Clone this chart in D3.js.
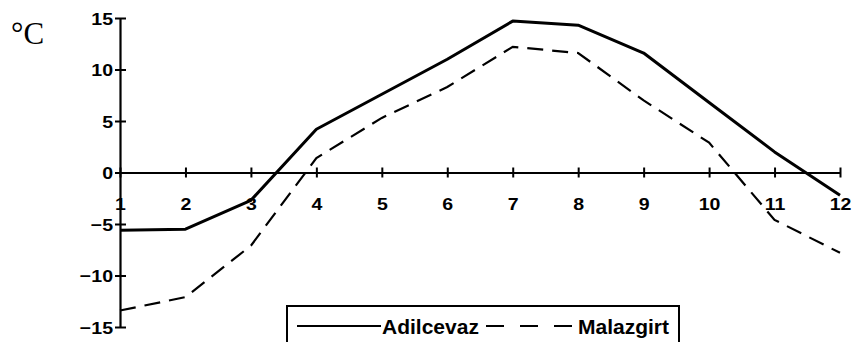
<!DOCTYPE html>
<html>
<head>
<meta charset="utf-8">
<script src="https://cdn.jsdelivr.net/npm/d3@7"></script>
<style>
  html, body { margin: 0; padding: 0; background: #fff; }
  svg { display: block; }
</style>
</head>
<body>
<svg id="chart" width="859" height="342"></svg>
<script>
// ---- data ----
const months = [1, 2, 3, 4, 5, 6, 7, 8, 9, 10, 11, 12];
const adilcevaz = [-5.6, -5.5, -2.7, 4.2, 7.6, 11.0, 14.7, 14.3, 11.6, 6.8, 2.0, -2.2];
const malazgirt = [-13.4, -12.1, -7.1, 1.4, 5.3, 8.3, 12.2, 11.6, 7.0, 2.9, -4.6, -7.8];
const yTicks = [-15, -10, -5, 0, 5, 10, 15];
const seriesNames = ["Adilcevaz", "Malazgirt"];
const unitLabel = "°C";

// ---- layout ----
const svg = d3.select("#chart");
const x = d3.scaleLinear().domain([1, 12]).range([120, 840]);
const y = d3.scaleLinear().domain([-15, 15]).range([327, 18]);
const sans = "'Liberation Sans', Arial, sans-serif";

// y axis
const yAxis = d3.axisLeft(y).tickValues(yTicks).tickSizeOuter(0).tickSize(0).tickPadding(0);
const gy = svg.append("g").attr("transform", `translate(${x(1)},0)`).call(yAxis);
gy.select(".domain").attr("stroke", "#000").attr("stroke-width", 2.2);
gy.selectAll(".tick line").attr("x1", -5).attr("x2", 6).attr("stroke", "#000").attr("stroke-width", 2);
gy.selectAll(".tick text")
  .attr("x", 0).attr("dy", "0.36em")
  .attr("transform", "translate(-7,0) scale(1.15,1)")
  .attr("font-family", sans).attr("font-weight", "bold").attr("font-size", 17)
  .attr("fill", "#000");

// x axis at zero
const xAxis = d3.axisBottom(x).tickValues(months).tickFormat(d3.format("d")).tickSizeOuter(0).tickSize(0);
const gx = svg.append("g").attr("transform", `translate(0,${y(0)})`).call(xAxis);
gx.select(".domain").attr("stroke", "#000").attr("stroke-width", 2.2);
gx.selectAll(".tick line").attr("y1", -5).attr("y2", 5).attr("stroke", "#000").attr("stroke-width", 2);
gx.selectAll(".tick text")
  .attr("y", 0).attr("dy", 0)
  .attr("transform", "translate(0,37.5) scale(1.15,1)")
  .attr("font-family", sans).attr("font-weight", "bold").attr("font-size", 17)
  .attr("fill", "#000");
svg.selectAll(".domain").attr("fill", "none");

// lines
const line = d3.line().x((d, i) => x(months[i])).y(d => y(d));
svg.append("path").datum(adilcevaz)
  .attr("d", line).attr("fill", "none").attr("stroke", "#000")
  .attr("stroke-width", 3).attr("stroke-linejoin", "round");
svg.append("path").datum(malazgirt)
  .attr("d", line).attr("fill", "none").attr("stroke", "#000")
  .attr("stroke-width", 2.2).attr("stroke-dasharray", "16,9");

// unit label
svg.append("text").attr("x", 11).attr("y", 44)
  .attr("font-family", "'Liberation Serif', 'Times New Roman', serif")
  .attr("font-size", 31).attr("fill", "#000").text(unitLabel);

// legend
const lg = svg.append("g");
lg.append("rect").attr("x", 287).attr("y", 306).attr("width", 392).attr("height", 60)
  .attr("fill", "#fff").attr("stroke", "#000").attr("stroke-width", 2);
lg.append("line").attr("x1", 297).attr("x2", 381).attr("y1", 326).attr("y2", 326)
  .attr("stroke", "#000").attr("stroke-width", 2);
lg.append("text").attr("x", 382).attr("y", 334)
  .attr("font-family", sans).attr("font-weight", "bold").attr("font-size", 21)
  .attr("fill", "#000").text(seriesNames[0]);
lg.append("line").attr("x1", 486).attr("x2", 572).attr("y1", 326).attr("y2", 326)
  .attr("stroke", "#000").attr("stroke-width", 2).attr("stroke-dasharray", "18,16");
lg.append("text").attr("x", 578).attr("y", 334)
  .attr("font-family", sans).attr("font-weight", "bold").attr("font-size", 21)
  .attr("fill", "#000").text(seriesNames[1]);
</script>
</body>
</html>
